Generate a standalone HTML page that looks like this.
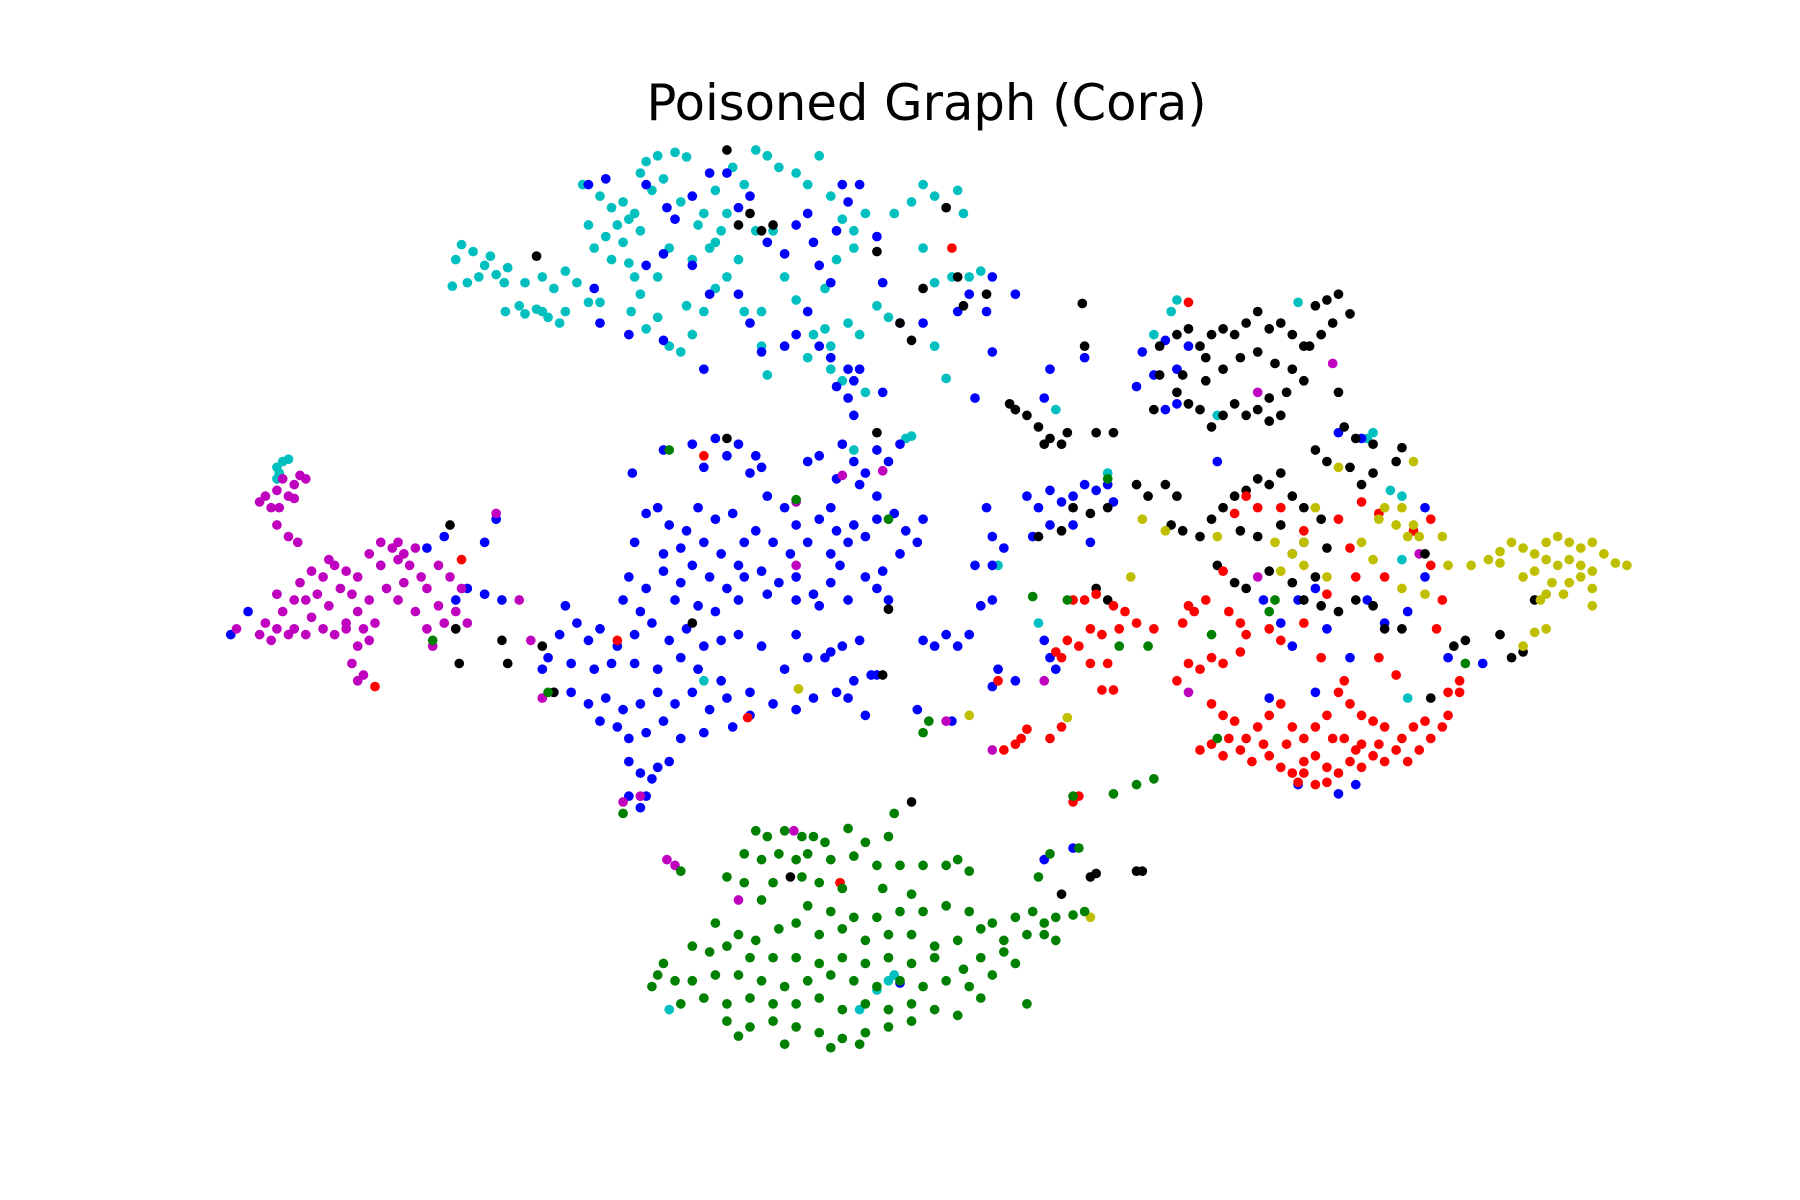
<!DOCTYPE html>
<html><head><meta charset="utf-8"><style>
html,body{margin:0;padding:0;background:#fff;}
svg{display:block;}
</style></head><body>
<svg id="chart" width="1800" height="1200" viewBox="0 0 1560 1040" xmlns="http://www.w3.org/2000/svg">
<rect x="0" y="0" width="1560" height="1040" fill="#fff"/>
<text x="803" y="104" text-anchor="middle" font-family="DejaVu Sans, Liberation Sans, sans-serif" font-size="43" fill="#000">Poisoned Graph (Cora)</text>
<g id="points"></g>
</svg>
<script>
const classNames = ["cyan","blue","magenta","black","red","yellow","green"];
const classColors = ["#00bfbf","#0000ff","#bf00bf","#000000","#ff0000","#bfbf00","#008000"];
const cyanPts = [[400,212],[395,225],[410,218],[420,230],[430,238],[440,232],[405,245],[392,248],[415,240],[425,222],[437,245],[450,265],[438,270],[455,272],[465,268],[475,275],[485,280],[470,240],[490,235],[480,250],[500,245],[510,262],[520,262],[455,245],[505,160],[520,170],[530,180],[540,175],[545,190],[535,195],[550,185],[555,200],[540,210],[525,205],[515,215],[510,195],[530,225],[545,228],[560,140],[570,135],[585,132],[595,136],[555,150],[565,165],[575,155],[550,240],[555,255],[560,285],[570,275],[580,300],[590,305],[600,290],[610,270],[620,250],[615,215],[625,200],[630,185],[610,185],[620,165],[635,145],[645,160],[655,130],[665,135],[675,145],[690,150],[700,160],[710,135],[720,170],[730,190],[740,200],[725,225],[715,250],[705,290],[715,285],[720,300],[700,310],[690,260],[680,240],[670,200],[655,200],[640,225],[630,240],[645,270],[660,270],[660,300],[665,325],[740,215],[750,185],[760,265],[770,275],[775,185],[790,175],[800,160],[810,170],[820,180],[830,165],[835,185],[800,215],[810,245],[825,240],[840,240],[850,235],[810,300],[820,328],[735,280],[745,290],[750,340],[720,320],[730,330],[620,210],[600,225],[595,265],[605,195],[590,175],[580,215],[570,240],[547,270],[470,270],[490,270],[240,405],[245,400],[250,398],[240,415],[242,410],[240,515],[330,490],[610,590],[740,390],[790,378],[785,380],[1020,260],[1125,262],[1055,360],[1030,350],[1205,425],[1215,430],[1220,605],[1190,375],[1215,485],[1185,380],[900,540],[865,490],[770,850],[760,858],[775,845],[745,875],[580,875],[960,410],[915,355],[1015,270],[1000,290]];
const bluePts = [[510,160],[525,155],[560,160],[578,180],[600,170],[615,150],[630,150],[640,180],[650,170],[665,210],[680,220],[690,195],[700,185],[705,210],[710,230],[730,160],[745,160],[720,245],[700,270],[690,290],[680,300],[710,300],[720,310],[735,320],[740,330],[725,335],[735,345],[745,320],[600,230],[615,255],[640,255],[650,280],[660,305],[610,320],[575,295],[545,290],[560,230],[575,220],[520,280],[515,250],[585,190],[760,205],[765,245],[780,280],[800,280],[830,270],[840,255],[855,270],[860,240],[880,255],[765,340],[740,360],[860,305],[845,345],[735,175],[725,200],
[575,390],[600,385],[620,380],[630,395],[640,385],[650,410],[660,405],[610,405],[655,395],[700,400],[710,395],[730,385],[740,400],[750,410],[760,390],[770,400],[780,385],[745,420],[725,415],[760,430],[720,440],[548,410],
[560,445],[570,440],[580,455],[595,460],[605,440],[620,450],[635,445],[645,470],[655,460],[665,430],[680,440],[690,455],[700,470],[710,450],[725,460],[740,455],[750,465],[760,450],[775,445],[785,460],[800,450],[550,470],[575,480],[590,475],[610,470],[625,480],[640,490],[670,470],[685,480],[720,480],[735,470],[780,480],[765,495],[795,470],
[545,500],[560,510],[575,495],[590,505],[600,490],[615,500],[630,510],[645,500],[660,495],[675,505],[690,500],[705,515],[720,505],[735,520],[750,500],[760,510],[540,520],[555,530],[585,520],[605,525],[620,530],[640,520],[665,515],[690,520],[710,525],[728,490],[770,520],
[490,525],[500,540],[485,550],[510,555],[520,545],[535,560],[550,550],[565,540],[580,555],[595,545],[610,560],[625,555],[640,550],[660,560],[690,550],[700,570],[715,570],[730,560],[745,555],[760,585],[475,570],[470,580],[495,575],[515,580],[530,575],[550,575],[570,580],[590,570],[605,580],[625,590],[680,580],[720,565],
[480,600],[495,600],[510,610],[525,605],[540,615],[555,610],[570,600],[585,610],[600,600],[615,615],[630,605],[650,600],[670,610],[690,615],[705,605],[725,600],[740,590],[755,585],[520,625],[535,630],[545,640],[560,635],[575,625],[590,640],[610,635],[635,630],[650,620],[750,620],[735,605],
[545,660],[555,670],[565,675],[570,665],[580,660],[545,690],[555,700],[560,690],
[800,555],[810,560],[820,550],[830,560],[840,550],[850,525],[860,520],[845,490],[860,490],[870,475],[855,440],[860,465],[890,430],[900,440],[910,425],[920,435],[930,430],[940,420],[950,425],[960,420],[965,435],[895,465],[910,455],[930,455],[945,470],[865,580],[905,555],[910,570],[915,580],[795,615],[825,625],[860,595],[880,590],[910,320],[905,345],[940,310],[985,335],[1000,325],[1020,320],[1010,295],[1030,300],[990,305],[1020,350],[1010,355],[1055,400],[1095,520],[1110,540],[1120,560],[1125,520],[1140,510],[1150,545],[1170,570],[1185,520],[1200,540],[1220,530],[1235,440],[1235,500],[1255,570],[1285,575],[1125,680],[1160,688],[1175,680],[1100,605],[1140,600],[1160,375],[1180,380],[1120,480],[200,550],[215,530],[370,475],[385,465],[395,520],[405,510],[420,515],[430,450],[420,470],[435,520],[930,735],[905,745],[780,852]];
const magentaPts = [[230,430],[240,425],[245,415],[255,420],[260,412],[265,415],[250,430],[235,440],[225,435],[242,440],[255,432],[240,455],[250,465],[258,470],[230,540],[240,545],[250,550],[235,555],[225,550],[245,530],[255,520],[260,505],[270,495],[280,500],[290,490],[300,495],[310,500],[320,480],[330,490],[340,475],[350,480],[355,490],[365,500],[380,490],[390,500],[400,510],[395,530],[385,540],[370,545],[360,530],[345,520],[335,510],[320,520],[310,530],[300,540],[290,550],[280,545],[270,535],[265,520],[275,515],[285,525],[295,510],[305,515],[315,545],[325,540],[320,555],[310,560],[305,575],[315,585],[310,590],[300,545],[240,515],[205,545],[350,505],[370,510],[380,525],[405,540],[395,545],[345,485],[360,475],[330,470],[345,470],[375,560],[265,550],[255,545],[285,485],[450,520],[460,555],[470,605],[430,445],[540,695],[555,690],[690,435],[730,412],[765,408],[690,490],[1090,500],[1155,315],[1090,340],[1230,480],[905,590],[688,720],[578,745],[585,750],[640,780],[860,650],[820,625],[1030,600]];
const blackPts = [[1160,255],[1150,260],[1140,265],[1170,272],[1155,280],[1145,290],[1130,300],[1120,290],[1110,280],[1100,285],[1090,270],[1080,280],[1070,290],[1060,285],[1050,290],[1040,300],[1030,285],[1020,290],[1045,310],[1060,320],[1075,310],[1090,305],[1105,315],[1120,320],[1130,330],[1115,340],[1100,345],[1090,355],[1080,360],[1070,350],[1060,360],[1050,370],[1040,355],[1030,350],[1020,340],[1045,330],[1025,325],[1005,300],[1005,325],[1110,360],[1100,365],[1135,300],[1000,355],[938,263],[940,300],[880,355],[890,360],[900,370],[910,380],[920,385],[905,385],[925,375],[950,375],[965,375],[875,350],[1160,340],[1165,370],[1175,380],[1190,385],[1215,388],[1210,400],[1190,410],[1180,420],[1170,405],[1150,400],[1140,390],[1110,410],[1100,420],[1090,415],[1080,425],[1070,430],[1060,440],[1050,450],[1075,460],[1090,465],[1110,455],[1130,440],[1145,450],[1120,430],[985,420],[995,430],[1010,420],[1020,430],[1015,455],[1025,460],[1040,465],[960,440],[945,445],[930,440],[920,460],[900,465],[1055,490],[1070,505],[1080,510],[1100,495],[1120,505],[1130,520],[1145,525],[1160,530],[1175,520],[1190,525],[1200,545],[1215,545],[1130,470],[1150,475],[1260,560],[1270,555],[1300,550],[1320,565],[1330,520],[1310,570],[1240,605],[1235,480],[1140,500],[950,510],[960,520],[770,528],[765,585],[790,695],[985,755],[990,755],[945,760],[950,757],[920,775],[685,760],[435,555],[440,575],[470,560],[480,600],[600,540],[760,375],[820,180],[630,380],[398,575],[390,455],[395,545],[630,130],[650,185],[640,195],[660,200],[670,195],[465,222],[760,218],[780,280],[790,295],[830,240],[835,265],[800,250],[855,255]];
const redPts = [[1040,650],[1050,645],[1060,655],[1075,650],[1085,660],[1100,655],[1110,665],[1120,670],[1130,660],[1140,655],[1150,665],[1160,670],[1170,660],[1180,665],[1190,655],[1200,660],[1210,650],[1220,660],[1230,650],[1240,640],[1250,630],[1255,620],[1265,600],[1160,600],[1170,610],[1180,620],[1190,625],[1200,630],[1150,620],[1140,630],[1130,640],[1120,630],[1110,610],[1100,620],[1090,630],[1080,640],[1070,625],[1060,620],[1050,610],[1065,640],[1095,645],[1115,645],[1165,640],[1180,645],[1195,645],[1175,650],[1155,640],[1130,670],[1140,680],[1150,678],[1125,678],[1215,640],[1225,630],[1235,625],[1020,590],[1030,575],[1040,580],[1050,570],[1060,575],[1075,565],[1080,550],[1025,540],[1035,530],[1045,520],[1065,530],[1075,540],[1100,545],[1110,555],[1130,540],[1145,570],[1165,590],[1195,570],[1210,585],[1245,545],[1250,520],[1240,490],[1225,460],[1240,450],[1195,445],[1170,475],[1130,460],[1110,440],[1090,440],[1080,430],[1070,445],[1060,495],[1180,435],[1160,450],[1200,500],[1255,600],[1265,590],[940,520],[950,515],[965,525],[975,530],[985,540],[970,545],[955,550],[945,545],[935,560],[925,555],[920,570],[930,520],[915,565],[960,575],[965,598],[955,598],[945,575],[1000,545],[1030,525],[865,590],[870,650],[880,645],[885,640],[890,632],[910,640],[920,630],[930,695],[935,690],[825,215],[1030,262],[610,395],[535,555],[400,485],[325,595],[648,622],[728,765],[1150,515],[1175,500]];
const yellowPts = [[1290,485],[1300,478],[1310,470],[1320,475],[1330,480],[1340,470],[1350,465],[1360,470],[1370,475],[1380,470],[1390,480],[1400,488],[1410,490],[1360,485],[1370,490],[1380,495],[1350,490],[1340,485],[1330,495],[1320,500],[1345,505],[1360,505],[1370,500],[1380,510],[1340,515],[1335,520],[1355,515],[1380,525],[1275,490],[1300,488],[1330,548],[1340,545],[1320,560],[1200,440],[1195,450],[1210,455],[1220,465],[1230,465],[1225,455],[1215,440],[1140,440],[1130,470],[1120,480],[1110,495],[1105,470],[1130,490],[1150,500],[1190,485],[1180,470],[1160,405],[1225,400],[1055,465],[1010,460],[990,450],[980,500],[1250,465],[1235,515],[1255,490],[1215,510],[840,620],[925,622],[692,597],[945,795]];
const greenPts = [[655,720],[665,725],[680,720],[695,725],[705,725],[715,730],[735,718],[750,730],[775,705],[770,725],[645,740],[660,745],[675,740],[690,745],[700,740],[720,745],[740,742],[760,750],[780,750],[820,750],[830,745],[840,755],[590,755],[630,760],[645,765],[670,765],[695,760],[710,765],[730,770],[765,770],[790,775],[660,780],[700,785],[720,790],[740,795],[760,795],[780,790],[800,790],[820,785],[840,790],[860,800],[880,795],[895,790],[905,800],[915,795],[930,793],[940,790],[900,760],[910,740],[935,735],[620,800],[640,810],[655,815],[675,805],[690,800],[710,810],[730,805],[750,815],[770,810],[790,810],[810,820],[830,815],[850,805],[870,815],[890,810],[905,810],[915,815],[600,820],[615,825],[630,820],[650,830],[670,830],[690,830],[710,835],[730,830],[750,835],[770,830],[790,835],[810,830],[835,840],[850,830],[870,825],[880,835],[570,845],[585,850],[600,850],[620,845],[640,845],[660,850],[680,855],[700,850],[720,845],[740,850],[760,855],[780,850],[800,855],[820,850],[840,855],[860,845],[575,835],[565,855],[590,870],[610,865],[630,870],[650,865],[670,870],[690,870],[710,865],[730,875],[750,870],[770,875],[790,870],[810,875],[830,880],[850,865],[890,870],[630,885],[650,890],[670,885],[690,890],[710,895],[730,900],[750,895],[770,890],[790,885],[640,898],[680,905],[720,908],[745,905],[800,750],[985,680],[1000,675],[965,688],[930,690],[800,635],[805,625],[925,520],[895,517],[970,560],[995,560],[1050,550],[1055,640],[1105,520],[1100,530],[1270,575],[690,433],[770,450],[580,390],[475,600],[375,555],[540,705],[960,415]];
const classPoints = [cyanPts, bluePts, magentaPts, blackPts, redPts, yellowPts, greenPts];

function xScale(v){ return 0 + v * 1; }
function yScale(v){ return 0 + v * 1; }

const NS = "http://www.w3.org/2000/svg";
const layer = document.getElementById("points");
classPoints.forEach(function(pts, ci){
  const g = document.createElementNS(NS, "g");
  
  
  g.setAttribute("fill", classColors[ci]);
  pts.forEach(function(p){
    const c = document.createElementNS(NS, "circle");
    
    
    c.setAttribute("cx", xScale(p[0]));
    c.setAttribute("cy", yScale(p[1]));
    c.setAttribute("r", 4.2);
    g.appendChild(c);
  });
  layer.appendChild(g);
});
</script>
</body></html>
